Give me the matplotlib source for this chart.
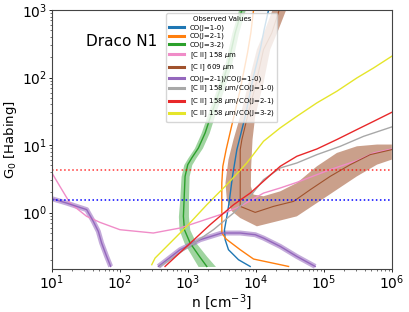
import numpy as np
import matplotlib.pyplot as plt
from matplotlib.lines import Line2D

# ── Observed-value curves in the (n, G0) plane ──
co10_n = [15360, 13250, 11590, 9241, 6979, 5253, 4529, 4090, 3820, 3452, 3533, 3954, 5560, 8249]
co10_G = [1000, 514, 260, 105, 26.7, 8.58, 3.45, 1.56, 0.989, 0.560, 0.398, 0.283, 0.201, 0.160]

co21_n = [9241, 8433, 7534, 5885, 4277, 3655, 3265, 3155, 3155, 3155, 3655, 5885, 9241, 22820, 30260]
co21_G = [1000, 459, 232, 66.4, 17.0, 8.58, 4.86, 2.75, 1.24, 0.500, 0.407, 0.283, 0.206, 0.170, 0.160]

co32_n = [6229, 4963, 3909, 2979, 2248, 1791, 1429, 1140, 996, 909, 879, 859, 889, 1077, 1479, 1897]
co32_G = [1000, 459, 156, 66.4, 30.0, 15.1, 9.08, 6.45, 5.14, 3.45, 1.56, 0.883, 0.560, 0.356, 0.225, 0.160]
co32_err = [0.049, 0.049, 0.049, 0.054, 0.054, 0.059, 0.059, 0.059, 0.059, 0.059,
            0.064, 0.074, 0.079, 0.088, 0.108, 0.128]   # half width of band, dex in n

cii_n = [10, 13.1, 18.4, 32.4, 50.9, 100, 310, 767, 1514, 2979, 5885, 12950, 22820, 40090,
         124000, 307000, 540800, 1e6]
cii_G = [3.87, 2.45, 1.39, 0.883, 0.719, 0.560, 0.500, 0.593, 0.744, 0.934, 1.24, 1.95, 2.32,
         2.81, 4.34, 5.89, 7.66, 8.77]

ci_n = [22030, 17180, 12950, 10100, 7534, 6229, 5885, 5885, 5885, 9781, 18190, 35820, 63100,
        124000, 245000, 482000, 1e6]
ci_G = [1000, 459, 260, 83.4, 26.7, 12.1, 8.58, 3.08, 1.24, 1.01, 1.24, 1.47, 2.19, 3.45,
        5.14, 7.23, 8.58]
# edges of the [C I] band
ci_lo_n = [17580, 13710, 10350, 7795, 5885, 4689, 3954, 3573, 3737, 4430, 5885, 10350, 20370,
           40090, 79060, 155600, 307000, 605400, 1e6]
ci_lo_G = [1000, 514, 260, 83.4, 26.7, 12.1, 6.10, 2.75, 1.56, 1.05, 0.834, 0.628, 0.744,
           0.883, 1.39, 2.19, 3.45, 5.14, 6.10]
ci_hi_n = [27920, 21560, 16260, 12950, 9781, 8933, 8531, 8433, 9241, 12950, 22820, 40090,
           79060, 155600, 307000, 605400, 1e6]
ci_hi_G = [1000, 514, 260, 83.4, 26.7, 12.1, 4.86, 2.45, 1.85, 1.75, 2.07, 2.75, 4.86, 7.66,
           9.61, 10.2, 10.2]

r2110_a_n = [10, 16.4, 23.1, 32.4, 40.6, 48.1, 53.8, 63.8, 73.1]
r2110_a_G = [1.61, 1.39, 1.24, 1.11, 0.744, 0.529, 0.356, 0.225, 0.160]
r2110_b_n = [368, 767, 1514, 3155, 5885, 9781, 12950, 22820, 40090, 74700]
r2110_b_G = [0.160, 0.283, 0.398, 0.500, 0.500, 0.472, 0.421, 0.317, 0.225, 0.160]

cii_co10_n = [390, 962, 2377, 4689, 8249, 12950, 22820, 40090, 79060, 174600, 384600, 1e6]
cii_co10_G = [0.160, 0.300, 0.560, 0.989, 1.75, 3.08, 4.59, 5.44, 7.23, 9.61, 13.5, 18.6]

cii_co21_n = [461, 962, 2123, 4689, 8249, 22820, 40090, 79060, 155600, 307000, 540800, 1e6]
cii_co21_G = [0.160, 0.317, 0.664, 1.31, 1.95, 4.86, 6.84, 8.77, 12.1, 17.0, 22.5, 30.6]

cii_co32_n = [294, 329, 488, 962, 1897, 3737, 7363, 12950, 22820, 40090, 79060, 155600,
              307000, 540800, 1e6]
cii_co32_G = [0.170, 0.213, 0.317, 0.628, 1.31, 2.60, 5.44, 11.4, 18.0, 26.7, 42.2, 62.8,
              98.9, 139, 207]

G_red = 4.25
G_blue = 1.55

labels = ['CO(J=1-0)', 'CO(J=2-1)', 'CO(J=3-2)', r'[C II] 158 $\mu$m', r'[C I] 609 $\mu$m',
          'CO(J=2-1)/CO(J=1-0)', r'[C II] 158 $\mu$m/CO(J=1-0)',
          r'[C II] 158 $\mu$m/CO(J=2-1)', r'[C II] 158 $\mu$m/CO(J=3-2)']
colors = ['#1f77b4', '#ff7f0e', '#2ca02c', '#f08cc8', '#a0522d', '#9467bd', '#a8a8a8',
          '#e8282a', '#e5e52a']


fig = plt.figure(figsize=(4.09, 3.12), dpi=100)
ax = fig.add_axes([0.127, 0.138, 0.831, 0.830])

# bands
w = np.array(co32_err)
ax.fill_betweenx(co32_G, np.array(co32_n) / 10**w, np.array(co32_n) * 10**w,
                 color=colors[2], alpha=0.45, lw=0)
ax.fill(np.concatenate([ci_lo_n, ci_hi_n[::-1]]), np.concatenate([ci_lo_G, ci_hi_G[::-1]]),
        color=colors[4], alpha=0.55, lw=0)
for xs, ys in [(r2110_a_n, r2110_a_G), (r2110_b_n, r2110_b_G)]:
    ax.plot(xs, ys, color=colors[5], lw=3.6, alpha=0.55, solid_capstyle='butt')

# curves
ax.plot(co10_n, co10_G, color=colors[0], lw=1.0)
ax.plot(co21_n, co21_G, color=colors[1], lw=1.0)
ax.plot(co32_n, co32_G, color=colors[2], lw=1.0)
ax.plot(cii_n, cii_G, color=colors[3], lw=1.0)
ax.plot(ci_n, ci_G, color=colors[4], lw=0.8)
ax.plot(r2110_a_n, r2110_a_G, color=colors[5], lw=1.0)
ax.plot(r2110_b_n, r2110_b_G, color=colors[5], lw=1.0)
ax.plot(cii_co10_n, cii_co10_G, color=colors[6], lw=1.0)
ax.plot(cii_co21_n, cii_co21_G, color=colors[7], lw=1.0)
ax.plot(cii_co32_n, cii_co32_G, color=colors[8], lw=1.0)

ax.axhline(G_red, color='red', ls=':', lw=1.1, alpha=0.8)
ax.axhline(G_blue, color='blue', ls=':', lw=1.1)

ax.set_xscale('log');  ax.set_yscale('log')
ax.set_xlim(10, 1e6);  ax.set_ylim(0.147, 1000)
ax.tick_params(labelsize=10, pad=1.5)
ax.tick_params(which='major', length=2, width=0.6)
ax.tick_params(which='minor', length=1.2, width=0.4)
for s in ax.spines.values():
    s.set_color('#444444')
ax.set_xlabel(r'n [cm$^{-3}$]', fontsize=10, labelpad=0)
ax.set_ylabel(r'G$_0$ [Habing]', fontsize=9.5, labelpad=2)
ax.text(0.1, 0.88, 'Draco N1', transform=ax.transAxes, fontsize=11, va='center')

handles = [Line2D([], [], color=c, lw=2.2) for c in colors]
ax.legend(handles, labels, title='Observed Values', loc='upper center', fontsize=5,
          title_fontsize=5, framealpha=0.8, labelspacing=0.3, borderpad=0.4,
          handleheight=0.6, handlelength=2.2)

plt.savefig('out.png', dpi=100)
